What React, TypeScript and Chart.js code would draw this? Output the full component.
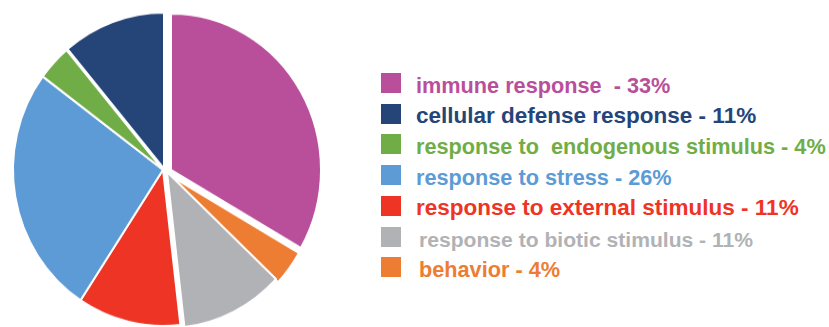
import React, { useEffect, useRef } from "react";
import { Chart, registerables } from "chart.js";

Chart.register(...registerables);

// Slices in clockwise order from 12 o'clock (counts out of 27 genes)
const categories = [
  "immune response",
  "behavior",
  "response to biotic stimulus",
  "response to external stimulus",
  "response to stress",
  "response to  endogenous stimulus",
  "cellular defense response",
];
const counts = [9, 1, 3, 3, 7, 1, 3];
const colors = ["#B94F9B", "#ED7D32", "#B1B2B5", "#EE3424", "#5C9BD5", "#70AD46", "#254579"];
// small exploded shifts of slices (px)
const sliceShiftX = [8, 6, 4, 0, 0, 0, 1];
const sliceShiftY = [0, 5, 2, 0, 0, 0, -1];

// Legend order (indices into categories) and its labels
const legendOrder = [0, 6, 5, 4, 3, 2, 1];
const legendLabels = [
  "immune response  - 33%",
  "cellular defense response - 11%",
  "response to  endogenous stimulus - 4%",
  "response to stress - 26%",
  "response to external stimulus - 11%",
  "response to biotic stimulus - 11%",
  "behavior - 4%",
];
// per-row text styling
const legendFontSizes = [21.7, 22.5, 21.7, 21.7, 22.5, 21.1, 21.7];
const legendTextLeft = [416, 416, 416, 416, 416, 419, 419];

const shiftPlugin = {
  id: "sliceShift",
  beforeDatasetDraw(chart: any, args: any) {
    const ctx = chart.ctx;
    args.meta.data.forEach((el: any, i: number) => {
      ctx.save();
      ctx.translate(sliceShiftX[i] || 0, sliceShiftY[i] || 0);
      el.draw(ctx, chart.chartArea);
      ctx.restore();
    });
    return false;
  },
};

export default function App() {
  const ref = useRef<HTMLCanvasElement | null>(null);

  useEffect(() => {
    document.body.style.margin = "0";
    if (!ref.current) return;
    const chart = new Chart(ref.current, {
      type: "pie",
      data: {
        labels: categories,
        datasets: [
          {
            data: counts,
            backgroundColor: colors,
            borderColor: "#ffffff",
            borderWidth: 2,
          },
        ],
      },
      options: {
        responsive: false,
        animation: false,
        devicePixelRatio: 1,
        radius: 150,
        layout: { padding: { top: 12, left: 0, right: 8, bottom: 0 } },
        plugins: {
          legend: { display: false },
          tooltip: { enabled: false },
        },
      },
      plugins: [shiftPlugin],
    });
    return () => chart.destroy();
  }, []);

  const step = 30.7;

  return (
    <div style={{ position: "fixed", left: 0, top: 0, width: 829, height: 327, background: "#fff", overflow: "hidden" }}>
      <canvas
        ref={ref}
        width={334}
        height={314}
        style={{ position: "absolute", left: 0, top: 0, width: "334px", height: "327px" }}
      />
      {legendOrder.map((ci, i) => {
        const fs = legendFontSizes[i];
        return (
          <div key={i} style={{ position: "absolute", left: 0, top: 0 }}>
            <div
              style={{
                position: "absolute",
                left: 381,
                top: 93 + i * step - 20,
                width: 20,
                height: 20,
                background: colors[ci],
              }}
            />
            <div
              style={{
                position: "absolute",
                left: legendTextLeft[i],
                top: 93 + i * step - 0.85 * fs,
                whiteSpace: "pre",
                fontFamily: "'Liberation Sans', Arial, sans-serif",
                fontWeight: "bold",
                fontSize: fs,
                lineHeight: `${fs}px`,
                color: colors[ci],
              }}
            >
              {legendLabels[i]}
            </div>
          </div>
        );
      })}
    </div>
  );
}
